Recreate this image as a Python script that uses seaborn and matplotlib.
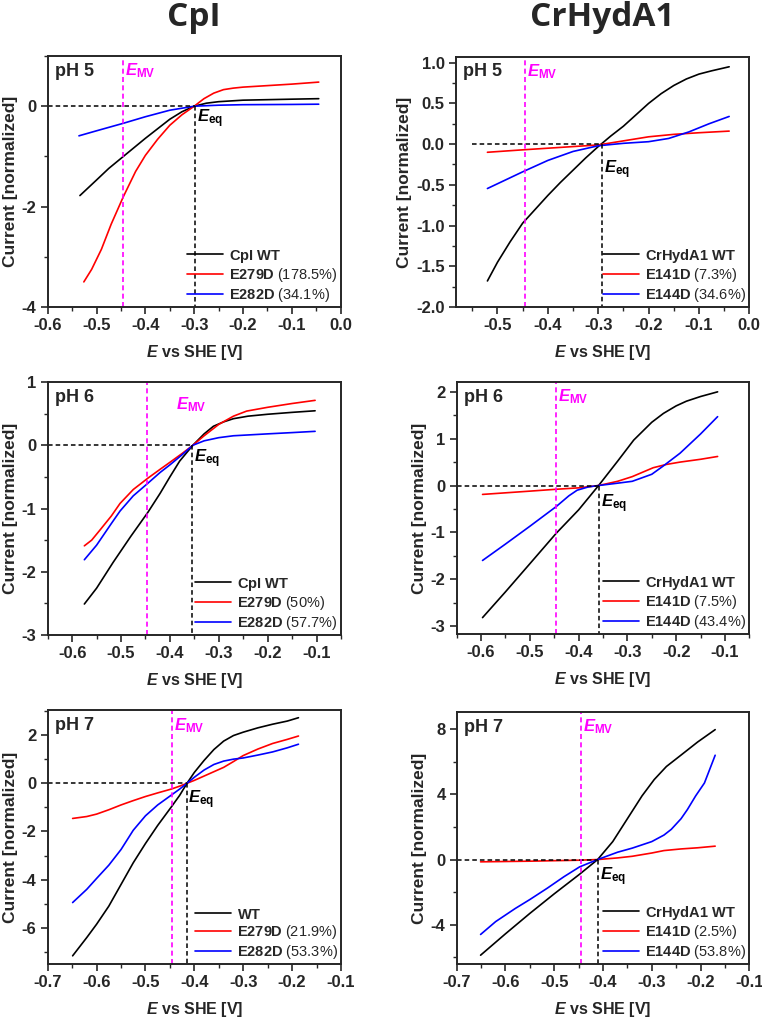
import numpy as np
import pandas as pd
import matplotlib
matplotlib.use("Agg")
import matplotlib.pyplot as plt
from matplotlib.ticker import MultipleLocator, FormatStrFormatter
import seaborn as sns

# --- DATA: CpI pH 5 ---
cpi5_wt_x = [-0.534, -0.50, -0.475, -0.445, -0.42, -0.40, -0.375, -0.35, -0.325, -0.30, -0.275, -0.25, -0.20, -0.15, -0.10, -0.045]
cpi5_wt_y = [-1.78, -1.47, -1.24, -1.0, -0.8, -0.64, -0.45, -0.26, -0.11, 0.0, 0.06, 0.09, 0.12, 0.13, 0.14, 0.15]
cpi5_e279_x = [-0.526, -0.51, -0.49, -0.47, -0.445, -0.42, -0.40, -0.375, -0.35, -0.325, -0.30, -0.28, -0.26, -0.24, -0.22, -0.20, -0.15, -0.10, -0.045]
cpi5_e279_y = [-3.5, -3.25, -2.85, -2.35, -1.8, -1.3, -0.98, -0.66, -0.38, -0.17, 0.0, 0.15, 0.26, 0.33, 0.36, 0.38, 0.41, 0.44, 0.48]
cpi5_e282_x = [-0.536, -0.50, -0.445, -0.40, -0.35, -0.30, -0.25, -0.20, -0.10, -0.045]
cpi5_e282_y = [-0.59, -0.49, -0.34, -0.21, -0.08, 0.0, 0.02, 0.03, 0.035, 0.04]

# --- DATA: CrHydA1 pH 5 ---
cr5_wt_x = [-0.52, -0.50, -0.475, -0.45, -0.425, -0.40, -0.375, -0.35, -0.325, -0.30, -0.275, -0.25, -0.225, -0.20, -0.175, -0.15, -0.125, -0.10, -0.075, -0.04]
cr5_wt_y = [-1.68, -1.45, -1.2, -0.97, -0.8, -0.63, -0.47, -0.32, -0.17, -0.03, 0.1, 0.22, 0.36, 0.5, 0.62, 0.72, 0.8, 0.86, 0.9, 0.95]
cr5_e141_x = [-0.52, -0.45, -0.40, -0.35, -0.30, -0.25, -0.20, -0.15, -0.10, -0.04]
cr5_e141_y = [-0.10, -0.07, -0.05, -0.03, -0.01, 0.04, 0.09, 0.12, 0.14, 0.16]
cr5_e144_x = [-0.52, -0.45, -0.40, -0.35, -0.30, -0.25, -0.20, -0.16, -0.12, -0.08, -0.04]
cr5_e144_y = [-0.545, -0.34, -0.2, -0.09, -0.02, 0.01, 0.03, 0.07, 0.15, 0.25, 0.34]

# --- DATA: CpI pH 6 ---
cpi6_wt_x = [-0.575, -0.55, -0.516, -0.48, -0.445, -0.42, -0.40, -0.38, -0.353, -0.33, -0.311, -0.29, -0.27, -0.24, -0.20, -0.15, -0.103]
cpi6_wt_y = [-2.51, -2.26, -1.85, -1.44, -1.06, -0.76, -0.5, -0.25, 0.0, 0.18, 0.30, 0.37, 0.42, 0.46, 0.49, 0.52, 0.545]
cpi6_e279_x = [-0.575, -0.56, -0.543, -0.52, -0.502, -0.475, -0.445, -0.42, -0.40, -0.375, -0.353, -0.33, -0.30, -0.27, -0.243, -0.20, -0.15, -0.103]
cpi6_e279_y = [-1.59, -1.5, -1.34, -1.12, -0.92, -0.7, -0.52, -0.38, -0.27, -0.13, 0.0, 0.15, 0.33, 0.46, 0.54, 0.6, 0.66, 0.71]
cpi6_e282_x = [-0.575, -0.55, -0.52, -0.502, -0.475, -0.445, -0.42, -0.40, -0.375, -0.353, -0.33, -0.30, -0.27, -0.20, -0.15, -0.103]
cpi6_e282_y = [-1.81, -1.58, -1.24, -1.04, -0.8, -0.6, -0.43, -0.31, -0.15, 0.0, 0.07, 0.12, 0.15, 0.18, 0.2, 0.22]

# --- DATA: CrHydA1 pH 6 ---
cr6_wt_x = [-0.597, -0.55, -0.50, -0.446, -0.40, -0.359, -0.32, -0.287, -0.25, -0.226, -0.20, -0.179, -0.15, -0.115]
cr6_wt_y = [-2.82, -2.27, -1.67, -1.02, -0.52, 0.0, 0.52, 0.97, 1.35, 1.54, 1.7, 1.8, 1.9, 2.0]
cr6_e141_x = [-0.597, -0.50, -0.446, -0.40, -0.359, -0.32, -0.29, -0.247, -0.22, -0.192, -0.15, -0.115]
cr6_e141_y = [-0.19, -0.12, -0.08, -0.05, 0.0, 0.09, 0.19, 0.38, 0.45, 0.5, 0.56, 0.62]
cr6_e144_x = [-0.597, -0.55, -0.50, -0.446, -0.42, -0.403, -0.38, -0.359, -0.32, -0.29, -0.25, -0.226, -0.192, -0.15, -0.115]
cr6_e144_y = [-1.6, -1.25, -0.87, -0.45, -0.22, -0.1, -0.03, 0.0, 0.05, 0.09, 0.24, 0.42, 0.69, 1.1, 1.47]

# --- DATA: CpI pH 7 ---
cpi7_x = [-0.649, -0.62, -0.60, -0.575, -0.55, -0.525, -0.50, -0.475, -0.447, -0.43, -0.415, -0.40, -0.38, -0.36, -0.34, -0.32, -0.30, -0.27, -0.24, -0.21, -0.187]
cpi7_wt_y = [-7.16, -6.4, -5.85, -5.1, -4.2, -3.3, -2.5, -1.75, -0.98, -0.5, 0.0, 0.45, 0.95, 1.4, 1.75, 1.98, 2.12, 2.3, 2.45, 2.58, 2.72]
cpi7_e279_y = [-1.46, -1.38, -1.28, -1.1, -0.9, -0.72, -0.55, -0.4, -0.24, -0.12, 0.0, 0.12, 0.3, 0.48, 0.66, 0.9, 1.15, 1.42, 1.65, 1.82, 1.96]
cpi7_e282_y = [-4.95, -4.4, -3.95, -3.4, -2.75, -1.95, -1.35, -0.9, -0.49, -0.24, 0.0, 0.25, 0.55, 0.78, 0.92, 1.0, 1.05, 1.17, 1.3, 1.47, 1.62]

# --- DATA: CrHydA1 pH 7 ---
cr7_wt_x = [-0.651, -0.60, -0.55, -0.50, -0.448, -0.411, -0.38, -0.35, -0.32, -0.295, -0.27, -0.24, -0.206, -0.17]
cr7_wt_y = [-5.86, -4.55, -3.3, -2.1, -0.9, 0.0, 1.1, 2.5, 3.9, 4.9, 5.7, 6.4, 7.2, 7.96]
cr7_e141_x = [-0.651, -0.55, -0.448, -0.411, -0.37, -0.34, -0.30, -0.275, -0.24, -0.206, -0.17]
cr7_e141_y = [-0.14, -0.1, -0.04, 0.0, 0.1, 0.2, 0.4, 0.55, 0.65, 0.72, 0.82]
cr7_e144_x = [-0.651, -0.62, -0.58, -0.55, -0.514, -0.48, -0.448, -0.411, -0.37, -0.34, -0.30, -0.275, -0.26, -0.24, -0.227, -0.21, -0.192, -0.17]
cr7_e144_y = [-4.59, -3.8, -3.0, -2.45, -1.75, -1.05, -0.45, 0.0, 0.45, 0.7, 1.1, 1.5, 1.85, 2.5, 3.06, 3.9, 4.69, 6.39]

# --- PANEL-INNSTILLINGER ---
# rect i piksler: (venstre, topp, høyre, bunn)
W, H = 762, 1018
panels = [
    dict(rect=(47.7, 56, 340.7, 307), xlim=(-0.6, 0.0), ylim=(-4, 1), ymaj=2, ymin=1, yfmt="%d",
         eeq=-0.298, hstart=-0.6, ph="pH 5", mv_dx=0.004, mv_y=0.94, eeq_y=-0.25,
         series=[(cpi5_wt_x, cpi5_wt_y, "black", r"$\mathbf{CpI\ WT}$"),
                 (cpi5_e279_x, cpi5_e279_y, "#ff0000", r"$\mathbf{E279D}$ (178.5%)"),
                 (cpi5_e282_x, cpi5_e282_y, "#0000ff", r"$\mathbf{E282D}$ (34.1%)")]),
    dict(rect=(455.7, 57, 749.3, 307), xlim=(-0.583, 0.0), ylim=(-2.0, 1.07), ymaj=0.5, ymin=0.25, yfmt="%.1f",
         eeq=-0.293, hstart=-0.55, ph="pH 5", mv_dx=0.004, mv_y=0.94, eeq_y=-0.31,
         series=[(cr5_wt_x, cr5_wt_y, "black", r"$\mathbf{CrHydA1\ WT}$"),
                 (cr5_e141_x, cr5_e141_y, "#ff0000", r"$\mathbf{E141D}$ (7.3%)"),
                 (cr5_e144_x, cr5_e144_y, "#0000ff", r"$\mathbf{E144D}$ (34.6%)")]),
    dict(rect=(47.7, 382, 341, 635), xlim=(-0.65, -0.05), ylim=(-3, 1), ymaj=1, ymin=0.5, yfmt="%d",
         eeq=-0.355, hstart=-0.65, ph="pH 6", mv_dx=0.058, mv_y=0.91, eeq_y=-0.22,
         series=[(cpi6_wt_x, cpi6_wt_y, "black", r"$\mathbf{CpI\ WT}$"),
                 (cpi6_e279_x, cpi6_e279_y, "#ff0000", r"$\mathbf{E279D}$ (50%)"),
                 (cpi6_e282_x, cpi6_e282_y, "#0000ff", r"$\mathbf{E282D}$ (57.7%)")]),
    dict(rect=(456.7, 382, 749.3, 634), xlim=(-0.65, -0.05), ylim=(-3.17, 2.21), ymaj=1, ymin=0.5, yfmt="%d",
         eeq=-0.359, hstart=-0.65, ph="pH 6", mv_dx=0.004, mv_y=0.94, eeq_y=-0.38,
         series=[(cr6_wt_x, cr6_wt_y, "black", r"$\mathbf{CrHydA1\ WT}$"),
                 (cr6_e141_x, cr6_e141_y, "#ff0000", r"$\mathbf{E141D}$ (7.5%)"),
                 (cr6_e144_x, cr6_e144_y, "#0000ff", r"$\mathbf{E144D}$ (43.4%)")]),
    dict(rect=(47.7, 710, 341, 964), xlim=(-0.7, -0.1), ylim=(-7.5, 3.04), ymaj=2, ymin=1, yfmt="%d",
         eeq=-0.416, hstart=-0.7, ph="pH 7", mv_dx=0.004, mv_y=0.94, eeq_y=-0.7,
         series=[(cpi7_x, cpi7_wt_y, "black", r"$\mathbf{WT}$"),
                 (cpi7_x, cpi7_e279_y, "#ff0000", r"$\mathbf{E279D}$ (21.9%)"),
                 (cpi7_x, cpi7_e282_y, "#0000ff", r"$\mathbf{E282D}$ (53.3%)")]),
    dict(rect=(456.7, 712, 749.3, 964), xlim=(-0.7, -0.1), ylim=(-6.4, 9.04), ymaj=4, ymin=2, yfmt="%d",
         eeq=-0.41, hstart=-0.7, ph="pH 7", mv_dx=0.004, mv_y=0.94, eeq_y=-1.05,
         series=[(cr7_wt_x, cr7_wt_y, "black", r"$\mathbf{CrHydA1\ WT}$"),
                 (cr7_e141_x, cr7_e141_y, "#ff0000", r"$\mathbf{E141D}$ (2.5%)"),
                 (cr7_e144_x, cr7_e144_y, "#0000ff", r"$\mathbf{E144D}$ (53.8%)")]),
]
E_MV = -0.446

sns.set_style("ticks")
plt.rcParams["font.family"] = ["Liberation Sans", "DejaVu Sans"]
plt.rcParams["axes.unicode_minus"] = False
plt.rcParams["mathtext.fontset"] = "custom"
plt.rcParams["mathtext.rm"] = "Liberation Sans"
plt.rcParams["mathtext.bf"] = "Liberation Sans:bold"
plt.rcParams["mathtext.it"] = "Liberation Sans:italic:bold"

fig = plt.figure(figsize=(W / 100, H / 100), dpi=100)

for p in panels:
    l, t, r, b = p["rect"]
    ax = fig.add_axes([l / W, 1 - b / H, (r - l) / W, (b - t) / H])

    # --- KURVER ---
    for xs, ys, col, lab in p["series"]:
        df = pd.DataFrame({"E": xs, "I": ys})
        sns.lineplot(data=df, x="E", y="I", color=col, lw=1.2, sort=False,
                     estimator=None, label=lab, ax=ax)

    # --- HJELPELINJER ---
    ax.plot([p["hstart"], p["eeq"]], [0, 0], ls=(0, (3, 2)), color="black", lw=1.1)
    ax.plot([p["eeq"], p["eeq"]], [0, p["ylim"][0]], ls=(0, (3, 2)), color="black", lw=1.1)
    ax.axvline(E_MV, ls=(0, (3, 2)), color="#ff00ff", lw=1.2)

    ax.set_xlim(*p["xlim"])
    ax.set_ylim(*p["ylim"])
    ax.xaxis.set_major_locator(MultipleLocator(0.1))
    ax.xaxis.set_minor_locator(MultipleLocator(0.05))
    ax.xaxis.set_major_formatter(FormatStrFormatter("%.1f"))
    ax.yaxis.set_major_locator(MultipleLocator(p["ymaj"]))
    ax.yaxis.set_minor_locator(MultipleLocator(p["ymin"]))
    ax.yaxis.set_major_formatter(FormatStrFormatter(p["yfmt"]))
    ax.tick_params(which="major", direction="out", length=5, width=1.2, labelsize=12, pad=3)
    ax.tick_params(which="minor", direction="out", length=3, width=1.0)
    for lbl in ax.get_xticklabels() + ax.get_yticklabels():
        lbl.set_fontweight("bold")
    for s in ax.spines.values():
        s.set_linewidth(1.4)

    ax.set_xlabel(r"$\mathit{E}$ vs SHE [V]", fontsize=11.5, fontweight="bold", labelpad=7)
    ax.set_ylabel("Current [normalized]", fontsize=12.5, fontweight="bold", labelpad=3)

    # --- TEKSTER ---
    ax.text(0.025, 0.94, p["ph"], transform=ax.transAxes, fontsize=13, fontweight="bold",
            va="center", ha="left")
    ax.text(E_MV + p["mv_dx"], p["ylim"][0] + p["mv_y"] * (p["ylim"][1] - p["ylim"][0]),
            r"$\mathit{E}_{\mathbf{MV}}$", color="#ff00ff", fontsize=12, va="center", ha="left")
    ax.text(p["eeq"] + 0.004, p["eeq_y"], r"$\mathit{E}_{\mathbf{eq}}$", color="black",
            fontsize=12, va="center", ha="left")

    ax.legend(loc="lower right", frameon=False, fontsize=10.5, handlelength=2.5,
              handletextpad=0.4, labelspacing=0.12, borderaxespad=0.05, borderpad=0.15)

# --- OVERSKRIFTER ---
fig.text((47.7 + 340.7) / 2 / W, 1 - 18 / H, "CpI", fontsize=24, fontweight="bold",
         ha="center", va="center", family=["Open Sans", "DejaVu Sans"])
fig.text((455.7 + 749.3) / 2 / W, 1 - 18 / H, "CrHydA1", fontsize=24, fontweight="bold",
         ha="center", va="center", family=["Open Sans", "DejaVu Sans"])

fig.savefig("out.png", dpi=100)
